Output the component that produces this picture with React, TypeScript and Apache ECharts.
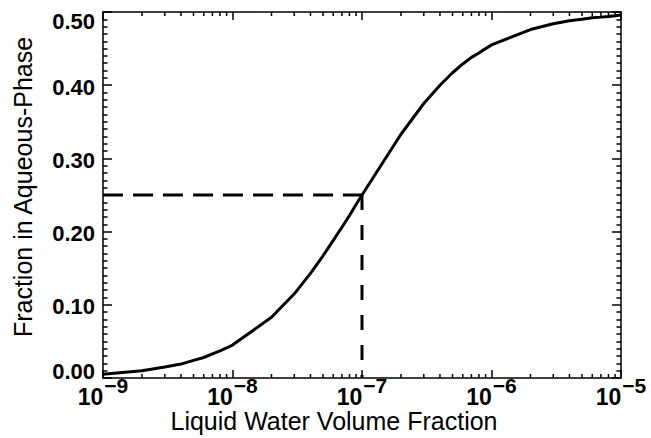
import React, { useEffect, useRef } from "react";
import * as echarts from "echarts";

// Liquid water volume fraction (x) and fraction in aqueous phase (y)
const volumeFraction = [
  1e-9, 2e-9, 3e-9, 4e-9, 5e-9, 6e-9, 7e-9, 8e-9, 9e-9,
  1e-8, 2e-8, 3e-8, 4e-8, 5e-8, 6e-8, 7e-8, 8e-8, 9e-8,
  1e-7, 2e-7, 3e-7, 4e-7, 5e-7, 6e-7, 7e-7, 8e-7, 9e-7,
  1e-6, 2e-6, 3e-6, 4e-6, 5e-6, 6e-6, 7e-6, 8e-6, 9e-6,
  1e-5,
];
const aqueousFraction = [
  0.005, 0.010, 0.015, 0.019, 0.024, 0.028, 0.033, 0.037, 0.041,
  0.045, 0.083, 0.115, 0.143, 0.167, 0.188, 0.206, 0.222, 0.237,
  0.250, 0.333, 0.375, 0.400, 0.417, 0.429, 0.438, 0.444, 0.450,
  0.455, 0.476, 0.484, 0.488, 0.490, 0.492, 0.493, 0.494, 0.495,
  0.496,
];

// dashed guide at the half-saturation point
const markerX = 1e-7;
const markerY = 0.25;

// axis ranges / ticks
const xDecades = [-9, -8, -7, -6, -5];
const minorMultipliers = [2, 3, 4, 5, 6, 7, 8, 9];
const yTickLabels = ["0.00", "0.10", "0.20", "0.30", "0.40", "0.50"];
const xTitle = "Liquid Water Volume Fraction";
const yTitle = "Fraction in Aqueous-Phase";

const SANS = "'Liberation Sans', Arial, Helvetica, sans-serif";

export default function App() {
  const ref = useRef<HTMLDivElement>(null);

  useEffect(() => {
    if (!ref.current) return;
    const chart = echarts.init(ref.current, undefined, { renderer: "svg" });

    const curve = volumeFraction.map((v, i) => [Math.log10(v), aqueousFraction[i]]);
    const xMin = xDecades[0];
    const xMax = xDecades[xDecades.length - 1];
    const yMin = 0;
    const yMax = 0.5;

    const minorTicks: number[][] = [];
    xDecades.slice(0, -1).forEach((d) => {
      minorMultipliers.forEach((m) => minorTicks.push([d + Math.log10(m)]));
    });

    const axisLineStyle = { color: "#000", width: 1.5 };

    const xLabelRich = {
      b: { fontFamily: SANS, fontWeight: "bold" as const, fontSize: 23, color: "#000" },
      s: {
        fontFamily: SANS,
        fontWeight: "bold" as const,
        fontSize: 21,
        color: "#000",
        padding: [0, 0, 22, 1],
      },
    };

    const yLabelBase = { fontFamily: SANS, fontWeight: "bold" as const, fontSize: 22, color: "#000" };

    const option: any = {
      animation: false,
      backgroundColor: "#fff",
      grid: { left: 103, right: 30, top: 12, bottom: 60, containLabel: false },
      xAxis: [
        {
          type: "value",
          min: xMin,
          max: xMax,
          interval: 1,
          position: "bottom",
          axisLine: { show: true, onZero: false, lineStyle: axisLineStyle },
          axisTick: { show: true, inside: true, length: 8, lineStyle: axisLineStyle },
          splitLine: { show: false },
          axisLabel: {
            show: true,
            margin: -3,
            formatter: (v: number) => `{b|10}{s|\u2212${Math.round(-v)}}`,
            rich: xLabelRich,
          },
        },
        {
          type: "value",
          min: xMin,
          max: xMax,
          interval: 1,
          position: "top",
          axisLine: { show: true, onZero: false, lineStyle: axisLineStyle },
          axisTick: { show: true, inside: true, length: 8, lineStyle: axisLineStyle },
          splitLine: { show: false },
          axisLabel: { show: false },
        },
      ],
      yAxis: [
        {
          type: "value",
          min: yMin,
          max: yMax,
          interval: 0.1,
          position: "left",
          axisLine: { show: true, onZero: false, lineStyle: axisLineStyle },
          axisTick: { show: true, inside: true, length: 9, lineStyle: axisLineStyle },
          minorTick: { show: true, splitNumber: 10, length: 4.5, lineStyle: axisLineStyle },
          splitLine: { show: false },
          minorSplitLine: { show: false },
          axisLabel: {
            show: true,
            margin: 8,
            formatter: (v: number) => {
              const idx = Math.round(v * 10);
              const t = yTickLabels[idx] ?? v.toFixed(2);
              if (idx === 5) return `{top|${t}}`;
              if (idx === 0) return `{bot|${t}}`;
              return `{mid|${t}}`;
            },
            rich: {
              top: { ...yLabelBase, padding: [18, 0, 0, 0] },
              bot: { ...yLabelBase, padding: [0, 0, 14, 0] },
              mid: { ...yLabelBase, padding: [4, 0, 0, 0] },
            },
          },
        },
        {
          type: "value",
          min: yMin,
          max: yMax,
          interval: 0.1,
          position: "right",
          axisLine: { show: true, onZero: false, lineStyle: axisLineStyle },
          axisTick: { show: true, inside: true, length: 9, lineStyle: axisLineStyle },
          minorTick: { show: true, splitNumber: 10, length: 4.5, lineStyle: axisLineStyle },
          splitLine: { show: false },
          minorSplitLine: { show: false },
          axisLabel: { show: false },
        },
      ],
      series: [
        {
          type: "custom",
          xAxisIndex: 0,
          yAxisIndex: 0,
          silent: true,
          clip: false,
          data: minorTicks,
          renderItem: (params: any, api: any) => {
            const x = api.value(0);
            const b = api.coord([x, yMin]);
            const t = api.coord([x, yMax]);
            const style = { stroke: "#000", lineWidth: 1.5 };
            return {
              type: "group",
              children: [
                { type: "line", shape: { x1: b[0], y1: b[1], x2: b[0], y2: b[1] - 4 }, style },
                { type: "line", shape: { x1: t[0], y1: t[1], x2: t[0], y2: t[1] + 4 }, style },
              ],
            };
          },
        },
        {
          type: "line",
          name: "guideH",
          silent: true,
          showSymbol: false,
          symbol: "none",
          data: [
            [xMin, markerY],
            [Math.log10(markerX), markerY],
          ],
          lineStyle: { color: "#000", width: 3, type: [20, 10] },
          z: 2,
        },
        {
          type: "line",
          name: "guideV",
          silent: true,
          showSymbol: false,
          symbol: "none",
          data: [
            [Math.log10(markerX), markerY],
            [Math.log10(markerX), yMin],
          ],
          lineStyle: { color: "#000", width: 3, type: [15, 15] },
          z: 2,
        },
        {
          type: "line",
          name: "curve",
          silent: true,
          showSymbol: false,
          symbol: "none",
          data: curve,
          lineStyle: { color: "#000", width: 3 },
          z: 3,
        },
      ],
      graphic: [
        {
          type: "text",
          x: 334,
          y: 421,
          style: {
            text: xTitle,
            font: `25px ${SANS}`,
            fill: "#000",
            textAlign: "center",
            textVerticalAlign: "middle",
          },
        },
        {
          type: "text",
          x: 23,
          y: 187,
          rotation: Math.PI / 2,
          style: {
            text: yTitle,
            font: `25px ${SANS}`,
            fill: "#000",
            textAlign: "center",
            textVerticalAlign: "middle",
          },
        },
      ],
    };

    chart.setOption(option);
    return () => chart.dispose();
  }, []);

  return (
    <div
      ref={ref}
      style={{ position: "fixed", left: 0, top: 0, width: 651, height: 438, background: "#fff" }}
    />
  );
}
